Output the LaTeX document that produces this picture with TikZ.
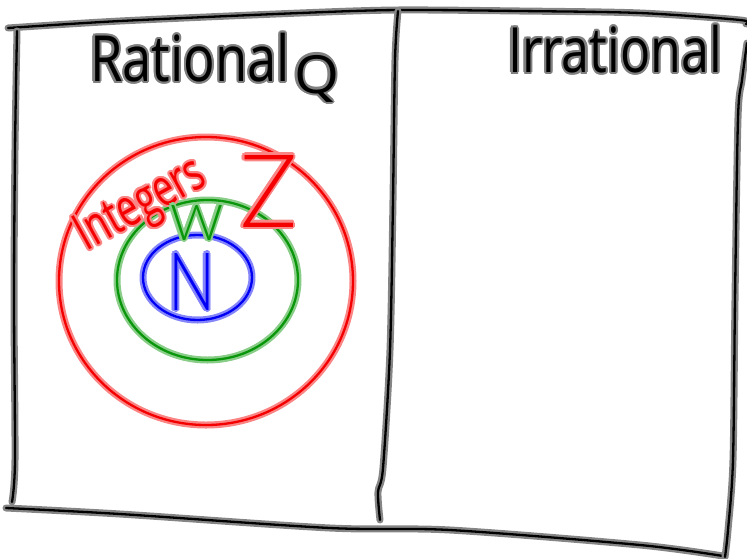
\documentclass[tikz,border=0pt]{standalone}
\usepackage{fontspec}
\setmainfont{Open Sans}
\IfFontExistsTF{Lato Light}{\newfontfamily\thinfont{Lato Light}}{%
  \IfFontExistsTF{DejaVu Sans ExtraLight}{\newfontfamily\thinfont{DejaVu Sans ExtraLight}}{\newfontfamily\thinfont{Open Sans}}}
\usepackage{graphicx}
\usetikzlibrary{shapes.geometric}
\definecolor{inkblack}{RGB}{0,0,0}
\definecolor{inkred}{RGB}{245,0,0}
\definecolor{inkgreen}{RGB}{10,150,10}
\definecolor{inkblue}{RGB}{0,0,245}
\tikzset{
  ink/.style={draw=#1, line width=2.3pt, line cap=round, line join=round,
    preaction={draw=#1!48, line width=7pt, line cap=round, line join=round}},
  ring/.style={ellipse, inner sep=0pt, outer sep=0pt, ink=#1},
  word/.style={inner sep=0pt, outer sep=0pt}
}
% #1 name, #2 node options, #3 colour, #4 halo colour, #5 content
\newcommand\inkword[5]{%
  \foreach \a in {0,30,...,330}{%
    \node[word,#2,text=#4,xshift={2.1pt*cos(\a)},yshift={2.1pt*sin(\a)}] {#5};}%
  \node[word,#2,text=#3] (#1) {#5};}
\newcommand\thinglyphs[1]{{\thinfont #1}}
\begin{document}
\begin{tikzpicture}[x=1pt,y=-1pt]
\useasboundingbox (0,0) rectangle (747,558);
% frame
\draw[ink=inkblack] plot[smooth] coordinates {(8,28) (120,21) (300,13) (398,10) (520,11) (640,13) (740,20) (746,24)};
\draw[ink=inkblack] plot[smooth] coordinates {(17,31) (15,150) (14,300) (15,460) (12,502)};
\draw[ink=inkblack] plot[smooth] coordinates {(398,11) (395,60) (393,200) (390,350) (383,468) (378,492) (380,520)};
\draw[ink=inkblack] plot[smooth] coordinates {(6,508) (120,514) (330,528) (450,530) (640,545) (723,556)};
\draw[ink=inkblack] plot[smooth] coordinates {(747,43) (742,80) (738,118) (735,300) (733,460) (728,530) (725,557)};
% headings
\inkword{rational}{anchor=north west,at={(90,33)}}{inkblack}{black!50}{\resizebox*{200pt}{49pt}{\fontsize{64}{64}\selectfont Rational}}
\inkword{Q}{anchor=north west,at={(294,55)}}{inkblack}{black!50}{\resizebox*{45pt}{47pt}{\fontsize{48}{48}\selectfont Q}}
\inkword{irrational}{anchor=north west,at={(508,25)}}{inkblack}{black!50}{\resizebox*{214pt}{48pt}{\fontsize{63}{63}\selectfont Irrational}}
% sets
\node[ring=inkred, minimum width=294pt, minimum height=288pt] (Zset) at (206,281) {};
\node[ring=inkgreen, minimum width=181pt, minimum height=160pt] (Wset) at (207.5,280) {};
\node[ring=inkblue, minimum width=109pt, minimum height=85pt] (Nset) at (197.5,277.5) {};
% labels
\inkword{integers}{anchor=center,at={(142,207)},rotate=29}{inkred}{inkred!48}{\resizebox*{140pt}{50pt}{\fontsize{52}{52}\selectfont Integers}}
\inkword{Z}{anchor=north west,at={(240,155)}}{inkred}{inkred!48}{\resizebox*{57pt}{72pt}{\thinglyphs{\fontsize{90}{90}\selectfont Z}}}
\inkword{W}{anchor=north west,at={(170,205)}}{inkgreen}{inkgreen!48}{\resizebox*{53pt}{35pt}{\thinglyphs{\fontsize{48}{48}\selectfont W}}}
\inkword{N}{anchor=north west,at={(168,253)}}{inkblue}{inkblue!48}{\resizebox*{47pt}{57pt}{\thinglyphs{\fontsize{78}{78}\selectfont N}}}
\end{tikzpicture}
\end{document}
